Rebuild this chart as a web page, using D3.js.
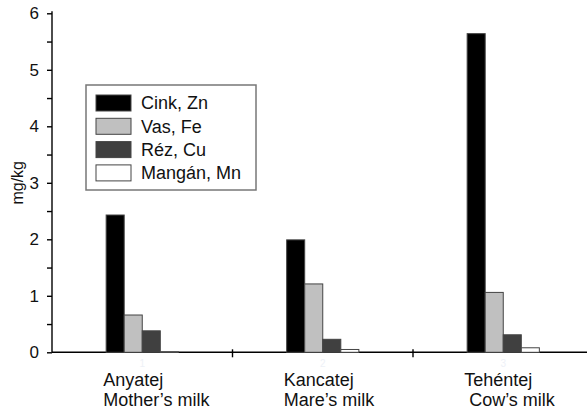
<!DOCTYPE html>
<html>
<head>
  <meta charset="utf-8">
  <title>Milk minerals</title>
  <style>
    body { margin: 0; background: #fff; }
    svg { display: block; }
    svg text { font-family: "Liberation Sans", Arial, sans-serif; }
    .bar { stroke: #444; stroke-width: 1px; }
    .axis path, .axis line { stroke: #000; stroke-width: 1.4px; }
  </style>
</head>
<body>
<svg width="587" height="410"></svg>
<script src="https://cdn.jsdelivr.net/npm/d3@7"></script>
<script>
  var categories = [1, 2, 3];
  var catLabels = ["Anyatej", "Kancatej", "Tehéntej"];
  var catLabelsEn = ["Mother’s milk", "Mare’s milk", " Cow’s milk"];
  var series = ["Cink, Zn", "Vas, Fe", "Réz, Cu", "Mangán, Mn"];
  var colors = ["#000000", "#c0c0c0", "#404040", "#ffffff"];
  var zinc = [2.43, 1.99, 5.64];
  var iron = [0.66, 1.21, 1.06];
  var copper = [0.38, 0.23, 0.31];
  var manganese = [0.01, 0.05, 0.08];
  var yTicks = [0, 1, 2, 3, 4, 5, 6];

  var values = [zinc, iron, copper, manganese];

  var svg = d3.select("svg");

  var x = d3.scaleLinear().domain([0.5, 3.5]).range([52, 593.5]),
      y = d3.scaleLinear().domain([0, 6]).range([352.3, 13.3]);

  var groupW = (x(2) - x(1)) * 0.4;
  var inner = d3.scaleBand().domain(series).range([-groupW / 2, groupW / 2]).padding(0);

  // y axis with half-unit minor ticks
  var yAxis = svg.append("g")
      .attr("class", "axis")
      .attr("transform", "translate(" + x(0.5) + ",0)");

  yAxis.call(d3.axisLeft(y).tickValues(d3.range(0, 6.01, 0.5)).tickSize(5).tickFormat(""))
      .select(".domain").attr("d", "M0," + y(0) + "V" + (y(6) - 2));

  yAxis.selectAll(".ytl")
    .data(yTicks)
    .enter().append("text")
      .attr("class", "ytl")
      .attr("x", -13)
      .attr("y", function(d) { return y(d); })
      .attr("dy", "0.36em")
      .attr("text-anchor", "end")
      .style("font-size", "17px")
      .attr("fill", "#111")
      .text(function(d) { return d; });

  svg.append("text")
      .attr("transform", "translate(23," + y(3) + ") rotate(-90)")
      .attr("text-anchor", "middle")
      .style("font-size", "16px")
      .attr("fill", "#111")
      .text("mg/kg");

  // x axis: boundary ticks crossing the line
  var xAxis = svg.append("g").attr("class", "axis");
  xAxis.append("line")
      .attr("x1", x(0.5)).attr("x2", x(3.5))
      .attr("y1", y(0)).attr("y2", y(0));
  xAxis.selectAll(".xt")
    .data([1.5, 2.5])
    .enter().append("line")
      .attr("class", "xt")
      .attr("x1", function(d) { return x(d); })
      .attr("x2", function(d) { return x(d); })
      .attr("y1", y(0) - 3)
      .attr("y2", y(0) + 5);

  // faint numeric tick labels
  xAxis.selectAll(".xn")
    .data(categories)
    .enter().append("text")
      .attr("class", "xn")
      .attr("x", function(d) { return x(d); })
      .attr("y", y(0) + 15)
      .attr("text-anchor", "middle")
      .style("font-size", "10px")
      .attr("fill", "#eef1f7")
      .text(function(d) { return d; });

  // bars
  var group = svg.selectAll(".group")
    .data(categories)
    .enter().append("g")
      .attr("class", "group")
      .attr("transform", function(d) { return "translate(" + x(d) + ",0)"; });

  group.selectAll("rect")
    .data(function(d, i) { return series.map(function(s, j) { return {s: s, j: j, v: values[j][i]}; }); })
    .enter().append("rect")
      .attr("class", "bar")
      .attr("x", function(d) { return inner(d.s); })
      .attr("width", inner.bandwidth())
      .attr("y", function(d) { return y(d.v); })
      .attr("height", function(d) { return y(0) - y(d.v); })
      .attr("fill", function(d) { return colors[d.j]; });

  // category labels
  var lab = svg.selectAll(".cat")
    .data(categories)
    .enter().append("text")
      .attr("class", "cat")
      .attr("x", function(d) { return x(d) - groupW / 2 - 3; })
      .attr("y", 386)
      .style("font-size", "18px")
      .style("white-space", "pre")
      .attr("fill", "#111");

  lab.append("tspan").text(function(d, i) { return catLabels[i]; });
  lab.append("tspan")
      .attr("x", function(d) { return x(d) - groupW / 2 - 3; })
      .attr("dy", 20)
      .text(function(d, i) { return catLabelsEn[i]; });

  // legend
  var legend = svg.append("g").attr("transform", "translate(86,85)");
  legend.append("rect")
      .attr("width", 170).attr("height", 105)
      .attr("fill", "#fff")
      .attr("stroke", "#777")
      .attr("stroke-width", 1.5);

  var item = legend.selectAll(".item")
    .data(series)
    .enter().append("g")
      .attr("class", "item")
      .attr("transform", function(d, i) { return "translate(10," + (10 + i * 23.3) + ")"; });

  item.append("rect")
      .attr("class", "bar")
      .attr("width", 35).attr("height", 16)
      .attr("fill", function(d, i) { return colors[i]; });

  item.append("text")
      .attr("x", 45)
      .attr("y", 8)
      .attr("dy", "0.36em")
      .style("font-size", "18px")
      .attr("fill", "#111")
      .text(function(d) { return d; });
</script>
</body>
</html>
